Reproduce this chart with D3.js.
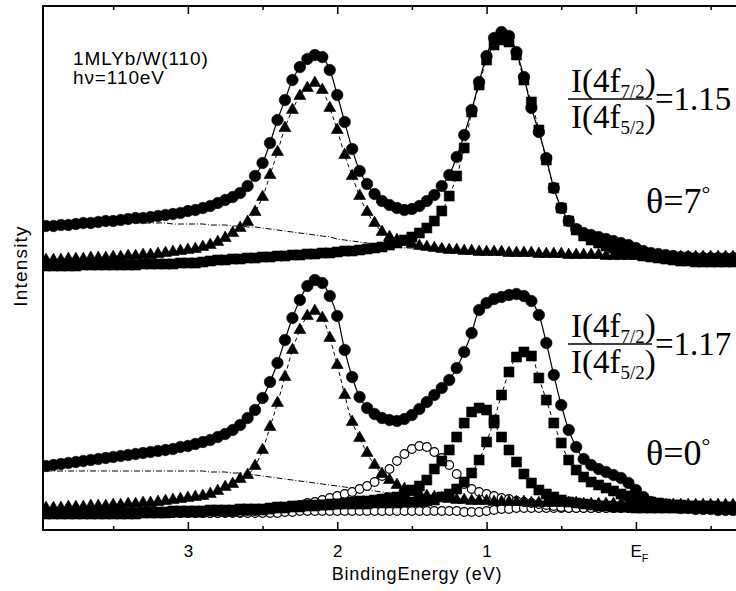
<!DOCTYPE html>
<html>
<head>
<meta charset="utf-8">
<script src="https://cdn.jsdelivr.net/npm/d3@7"></script>
<style>
  body { margin: 0; background: #fff; }
  svg { display: block; }
</style>
</head>
<body>
<div id="chart"></div>
<script>
// binding energy of every measured point (eV)
const energy = [
  3.95, 3.90, 3.85, 3.80, 3.75, 3.70, 3.65, 3.60, 3.55, 3.50,
  3.45, 3.40, 3.35, 3.30, 3.25, 3.20, 3.15, 3.10, 3.05, 3.00,
  2.95, 2.90, 2.85, 2.80, 2.75, 2.70, 2.65, 2.60, 2.55, 2.50,
  2.45, 2.40, 2.35, 2.30, 2.25, 2.20, 2.15, 2.10, 2.05, 2.00,
  1.95, 1.90, 1.85, 1.80, 1.75, 1.70, 1.65, 1.60, 1.55, 1.50,
  1.45, 1.40, 1.35, 1.30, 1.25, 1.20, 1.15, 1.10, 1.05, 1.00,
  0.95, 0.90, 0.85, 0.80, 0.75, 0.70, 0.65, 0.60, 0.55, 0.50,
  0.45, 0.40, 0.35, 0.30, 0.25, 0.20, 0.15, 0.10, 0.05, 0.00,
  -0.05, -0.10, -0.15, -0.20, -0.25, -0.30, -0.35, -0.40, -0.45, -0.50,
  -0.55, -0.60, -0.65
];

// theta = 7 deg spectrum (shifted up by topOffset)
const topOffset = 250;
const topCircles = [
  54, 54, 55, 55, 56, 57, 57, 58, 59, 59,
  60, 61, 62, 62, 63, 64, 65, 66, 67, 69,
  70, 72, 74, 77, 80, 83, 87, 94, 104, 117,
  137, 160, 180, 200, 213, 221, 225, 223, 210, 185,
  158, 131, 109, 96, 86, 79, 75, 72, 70, 71,
  74, 79, 85, 94, 105, 123, 145, 170, 198, 224,
  242, 248, 244, 228, 203, 172, 148, 122, 92, 72,
  59, 51, 47, 45, 43, 41, 39, 37, 35, 32,
  29, 27, 26, 25, 24, 23, 23, 22, 22, 22,
  22, 22, 22
];
const topTriangles = [
  20, 20, 20, 21, 21, 21, 22, 22, 22, 23,
  23, 24, 24, 25, 25, 26, 27, 28, 29, 30,
  31, 33, 35, 38, 42, 47, 52, 58, 68, 83,
  105, 128, 152, 170, 184, 192, 197, 190, 172, 150,
  125, 104, 84, 68, 57, 48, 43, 40, 38, 36,
  34, 33, 32, 31, 30, 30, 29, 29, 28, 28,
  28, 28, 27, 27, 27, 27, 26, 26, 26, 26,
  25, 25, 25, 25, 25, 24, 24, 24, 24, 24,
  23, 23, 23, 23, 23, 23, 23, 23, 23, 23,
  23, 23, 23
];
const topSquares = [
  14, 14, 14, 14, 14, 15, 15, 15, 15, 15,
  15, 15, 15, 16, 16, 16, 16, 16, 17, 17,
  17, 18, 19, 20, 20, 21, 21, 22, 22, 23,
  23, 24, 24, 25, 25, 26, 26, 27, 27, 28,
  29, 29, 30, 31, 32, 33, 35, 37, 40, 43,
  47, 52, 59, 69, 84, 104, 132, 168, 195, 220,
  235, 240, 238, 225, 200, 178, 150, 120, 92, 72,
  59, 50, 44, 40, 37, 34, 32, 30, 28, 26,
  24, 23, 22, 21, 20, 19, 19, 18, 18, 18,
  18, 18, 18
];
const topBackground = [
  57, 57, 57, 57, 57, 57, 57, 57, 57, 57,
  57, 57, 57, 57, 57, 57, 57, 56, 56, 56,
  56, 56, 55, 55, 55, 54, 54, 53, 53, 52,
  51, 50, 49, 48, 47, 46, 45, 44, 43, 41,
  40, 39, 38, 37, 36, 35, 34, 33, 32, 32,
  31, 31, 30, 30, 30, 29, 29, 29, 28, 28,
  28, 28, 27, 27, 27, 27, 26, 26, 26, 26,
  25, 25, 25, 25, 25, 25, 24, 24, 24, 24,
  24, 24, 24, 24, 23, 23, 23, 23, 23, 23,
  23, 23, 23
];

// theta = 0 deg spectrum
const bottomCircles = [
  64, 65, 66, 67, 68, 69, 70, 71, 72, 73,
  74, 75, 76, 77, 78, 79, 80, 81, 83, 84,
  86, 88, 90, 93, 96, 100, 105, 112, 120, 132,
  148, 167, 190, 212, 230, 244, 250, 247, 234, 214,
  180, 153, 133, 122, 116, 112, 110, 109, 111, 115,
  121, 128, 135, 142, 150, 162, 178, 197, 220, 227,
  231, 233, 235, 236, 234, 229, 215, 187, 155, 125,
  100, 83, 71, 65, 61, 58, 55, 52, 47, 40,
  33, 28, 25, 24, 23, 22, 22, 21, 21, 21,
  20, 20, 20
];
const bottomTriangles = [
  22, 22, 22, 23, 23, 23, 24, 24, 24, 25,
  25, 26, 26, 27, 27, 28, 29, 30, 31, 32,
  33, 34, 36, 39, 43, 46, 51, 55, 64, 80,
  103, 127, 153, 180, 200, 214, 219, 212, 192, 165,
  135, 108, 92, 77, 65, 56, 50, 45, 41, 38,
  36, 34, 33, 32, 31, 30, 30, 29, 29, 29,
  28, 28, 28, 28, 28, 27, 27, 27, 27, 27,
  27, 27, 26, 26, 26, 26, 26, 26, 26, 26,
  25, 25, 25, 25, 25, 25, 25, 25, 25, 25,
  25, 25, 25
];
const bottomSquaresA = [
  17, 17, 17, 17, 17, 17, 17, 17, 17, 17,
  17, 17, 17, 18, 18, 18, 18, 19, 19, 19,
  19, 19, 20, 20, 20, 20, 21, 21, 21, 21,
  22, 23, 23, 24, 24, 25, 25, 25, 26, 26,
  26, 26, 26, 26, 27, 27, 27, 27, 28, 28,
  28, 29, 30, 33, 36, 41, 48, 57, 70, 88,
  110, 135, 158, 173, 178, 174, 152, 130, 107, 87,
  70, 60, 53, 48, 45, 42, 39, 36, 34, 31,
  29, 28, 27, 26, 25, 25, 24, 24, 24, 24,
  23, 23, 23
];
const bottomSquaresB = [
  16, 16, 16, 16, 16, 16, 16, 16, 16, 16,
  16, 16, 16, 17, 17, 17, 17, 18, 18, 18,
  18, 18, 19, 19, 19, 19, 20, 20, 20, 20,
  21, 22, 22, 23, 23, 24, 24, 25, 25, 26,
  27, 28, 29, 29, 30, 31, 32, 33, 36, 40,
  44, 50, 61, 69, 80, 93, 107, 118, 122, 120,
  107, 93, 80, 68, 56, 47, 40, 36, 33, 30,
  28, 27, 26, 25, 24, 24, 23, 23, 23, 22,
  22, 22, 22, 22, 22, 22, 22, 22, 22, 22,
  22, 22, 22
];
const bottomOpenA = [
  17, 17, 17, 17, 17, 17, 17, 17, 17, 17,
  17, 17, 17, 17, 17, 17, 17, 17, 17, 17,
  17, 17, 17, 17, 18, 18, 18, 19, 19, 20,
  21, 22, 23, 24, 25, 27, 28, 30, 32, 34,
  36, 38, 41, 44, 48, 54, 61, 69, 76, 81,
  84, 83, 78, 72, 65, 56, 46, 41, 38, 36,
  34, 32, 31, 29, 28, 27, 26, 25, 24, 23,
  22, 22, 22, 22, 22, 22, 22, 22, 22, 22,
  22, 22, 22, 22, 22, 22, 22, 22, 22, 22,
  22, 22, 22
];
const bottomOpenB = [
  17, 17, 17, 17, 17, 17, 17, 17, 17, 17,
  17, 17, 17, 17, 17, 17, 17, 17, 17, 17,
  17, 17, 17, 17, 17, 17, 17, 17, 17, 17,
  17, 17, 18, 18, 19, 19, 19, 19, 19, 19,
  19, 19, 19, 19, 19, 19, 19, 19, 19, 19,
  19, 19, 19, 19, 19, 19, 18, 18, 18, 19,
  20, 21, 21, 22, 22, 22, 22, 22, 22, 22,
  22, 22, 22, 22, 22, 22, 22, 22, 22, 22,
  22, 22, 22, 22, 22, 22, 22, 22, 22, 22,
  22, 22, 22
];
const bottomBackground = [
  59, 59, 59, 59, 59, 59, 59, 59, 59, 59,
  59, 59, 59, 59, 59, 59, 59, 59, 59, 59,
  59, 59, 58, 58, 58, 57, 57, 56, 55, 54,
  53, 52, 51, 50, 49, 48, 47, 46, 45, 44,
  43, 42, 41, 40, 39, 38, 37, 36, 36, 35,
  34, 34, 33, 33, 32, 32, 31, 31, 30, 30,
  30, 29, 29, 29, 28, 28, 28, 28, 27, 27,
  27, 27, 27, 26, 26, 26, 26, 26, 26, 26,
  25, 25, 25, 25, 25, 25, 25, 25, 25, 25,
  25, 25, 25
];

const majorTicks = [3, 2, 1, 0];
const minorTicks = [3.5, 2.5, 1.5, 0.5, -0.5];
const tickLabels = ['3', '2', '1', 'E'];

const sans = '"Liberation Sans", Arial, sans-serif';
const serif = '"Liberation Serif", "Times New Roman", serif';

// quick sanity check on the arrays
[topCircles, topTriangles, topSquares, topBackground, bottomCircles, bottomTriangles,
 bottomSquaresA, bottomSquaresB, bottomOpenA, bottomOpenB, bottomBackground].forEach((s, k) => {
  if (s.length !== energy.length) throw new Error('series ' + k + ' has ' + s.length + ' points');
});

const width = 736, height = 591;
const plot = { left: 43, right: 736, top: 6, bottom: 530 };

const svg = d3.select('#chart')
  .append('svg')
  .attr('width', width)
  .attr('height', height);

const x = d3.scaleLinear().domain([3.97, -0.67]).range([plot.left, plot.right]);
const y = d3.scaleLinear().domain([0, 525]).range([plot.bottom, plot.bottom - 525]);

svg.append('defs').append('clipPath')
  .attr('id', 'plot-clip')
  .append('rect')
  .attr('x', plot.left)
  .attr('y', plot.top)
  .attr('width', plot.right - plot.left)
  .attr('height', plot.bottom - plot.top);

const g = svg.append('g').attr('clip-path', 'url(#plot-clip)');

function points(values, offset) {
  return values.map((v, i) => [x(energy[i]), y(v + offset)]);
}

const lineGen = d3.line().curve(d3.curveCatmullRom.alpha(0.5));

function drawLine(values, offset, dash, w) {
  g.append('path')
    .attr('d', lineGen(points(values, offset)))
    .attr('fill', 'none')
    .attr('stroke', '#000')
    .attr('stroke-width', w)
    .attr('stroke-dasharray', dash);
}

function drawMarkers(values, offset, type, size, open) {
  const sym = d3.symbol().type(type).size(size);
  g.append('g')
    .selectAll('path')
    .data(points(values, offset))
    .enter().append('path')
    .attr('transform', d => `translate(${d[0]},${d[1]})`)
    .attr('d', sym)
    .attr('fill', open ? '#fff' : '#000')
    .attr('stroke', '#000')
    .attr('stroke-width', open ? 1.1 : 0.6);
}

// Shirley backgrounds (dash-dot)
drawLine(topBackground, topOffset, '6,2,1,2', 1);
drawLine(bottomBackground, 0, '6,2,1,2', 1);

// surface components, open circles sit underneath the black data
drawMarkers(bottomOpenB, 0, d3.symbolCircle, 60, true);
drawMarkers(bottomOpenA, 0, d3.symbolCircle, 60, true);

// fit lines
drawLine(topTriangles, topOffset, '4,3', 1);
drawLine(topSquares, topOffset, '4,3', 1);
drawLine(topCircles, topOffset, null, 1.2);
drawLine(bottomTriangles, 0, '4,3', 1);
drawLine(bottomSquaresA, 0, '4,3', 1);
drawLine(bottomSquaresB, 0, '4,3', 1);
drawLine(bottomCircles, 0, null, 1.2);

// black markers
drawMarkers(topCircles, topOffset, d3.symbolCircle, 104, false);
drawMarkers(topTriangles, topOffset, d3.symbolTriangle, 62, false);
drawMarkers(topSquares, topOffset, d3.symbolSquare, 100, false);
drawMarkers(bottomCircles, 0, d3.symbolCircle, 104, false);
drawMarkers(bottomTriangles, 0, d3.symbolTriangle, 62, false);
drawMarkers(bottomSquaresA, 0, d3.symbolSquare, 100, false);
drawMarkers(bottomSquaresB, 0, d3.symbolSquare, 100, false);

// axes: ticks point inwards on top and bottom
const bottomAxis = svg.append('g')
  .attr('transform', `translate(0,${plot.bottom})`)
  .call(d3.axisBottom(x).tickValues(majorTicks).tickSize(-8).tickSizeOuter(0).tickPadding(15)
    .tickFormat((d, i) => tickLabels[i]));
svg.append('g')
  .attr('transform', `translate(0,${plot.bottom})`)
  .call(d3.axisBottom(x).tickValues(minorTicks).tickSize(-4).tickSizeOuter(0).tickFormat(''));
svg.append('g')
  .attr('transform', `translate(0,${plot.top})`)
  .call(d3.axisTop(x).tickValues(majorTicks).tickSize(-8).tickSizeOuter(0).tickFormat(''));
svg.append('g')
  .attr('transform', `translate(0,${plot.top})`)
  .call(d3.axisTop(x).tickValues(minorTicks).tickSize(-4).tickSizeOuter(0).tickFormat(''));

svg.selectAll('.domain').remove();
svg.selectAll('.tick line').attr('stroke', '#000').attr('stroke-width', 1.5);
bottomAxis.selectAll('.tick text')
  .attr('font-family', sans)
  .attr('font-size', 17)
  .attr('fill', '#000');
// Fermi level label gets its subscript
bottomAxis.selectAll('.tick text')
  .filter(d => d === 0)
  .attr('dx', 3)
  .append('tspan')
  .attr('font-size', 11)
  .attr('dy', 5)
  .text('F');

// frame (left, top, bottom)
svg.append('path')
  .attr('d', `M${plot.right},${plot.top}H${plot.left}V${plot.bottom}H${plot.right}`)
  .attr('fill', 'none')
  .attr('stroke', '#000')
  .attr('stroke-width', 2);

// axis titles
svg.append('text')
  .attr('x', 417)
  .attr('y', 580)
  .attr('text-anchor', 'middle')
  .attr('font-family', sans)
  .attr('font-size', 18)
  .attr('letter-spacing', 0.8)
  .text('BindingEnergy (eV)');

svg.append('text')
  .attr('transform', 'translate(27,266) rotate(-90)')
  .attr('text-anchor', 'middle')
  .attr('font-family', sans)
  .attr('font-size', 19)
  .attr('letter-spacing', 1.2)
  .text('Intensity');

// sample label
svg.append('text')
  .attr('x', 73).attr('y', 65)
  .attr('font-family', sans).attr('font-size', 19).attr('letter-spacing', 0.9)
  .text('1MLYb/W(110)');
svg.append('text')
  .attr('x', 73).attr('y', 84)
  .attr('font-family', sans).attr('font-size', 19).attr('letter-spacing', 0.9)
  .text('h\u03bd=110eV');

// intensity ratio annotations
function ratio(lineY, value) {
  const a = svg.append('g').attr('font-family', serif).attr('fill', '#000');
  const num = a.append('text').attr('x', 571).attr('y', lineY - 7).attr('font-size', 33);
  num.append('tspan').text('I(4f');
  num.append('tspan').attr('font-size', 19).attr('dy', 6).text('7/2');
  num.append('tspan').attr('dy', -6).text(')');
  a.append('line')
    .attr('x1', 568).attr('x2', 652)
    .attr('y1', lineY).attr('y2', lineY)
    .attr('stroke', '#000').attr('stroke-width', 1.5);
  const den = a.append('text').attr('x', 571).attr('y', lineY + 29).attr('font-size', 33);
  den.append('tspan').text('I(4f');
  den.append('tspan').attr('font-size', 19).attr('dy', 6).text('5/2');
  den.append('tspan').attr('dy', -6).text(')');
  a.append('text')
    .attr('x', 655).attr('y', lineY + 11)
    .attr('font-size', 33)
    .text('=' + value);
}
ratio(99, '1.15');
ratio(344, '1.17');

function angle(baseY, deg) {
  const t = svg.append('text')
    .attr('x', 646).attr('y', baseY)
    .attr('font-family', serif).attr('font-size', 36);
  t.append('tspan').text('\u03b8=' + deg);
  t.append('tspan').attr('font-size', 22).attr('dy', -12).text('\u00b0');
}
angle(213, '7');
angle(465, '0');
</script>
</body>
</html>
